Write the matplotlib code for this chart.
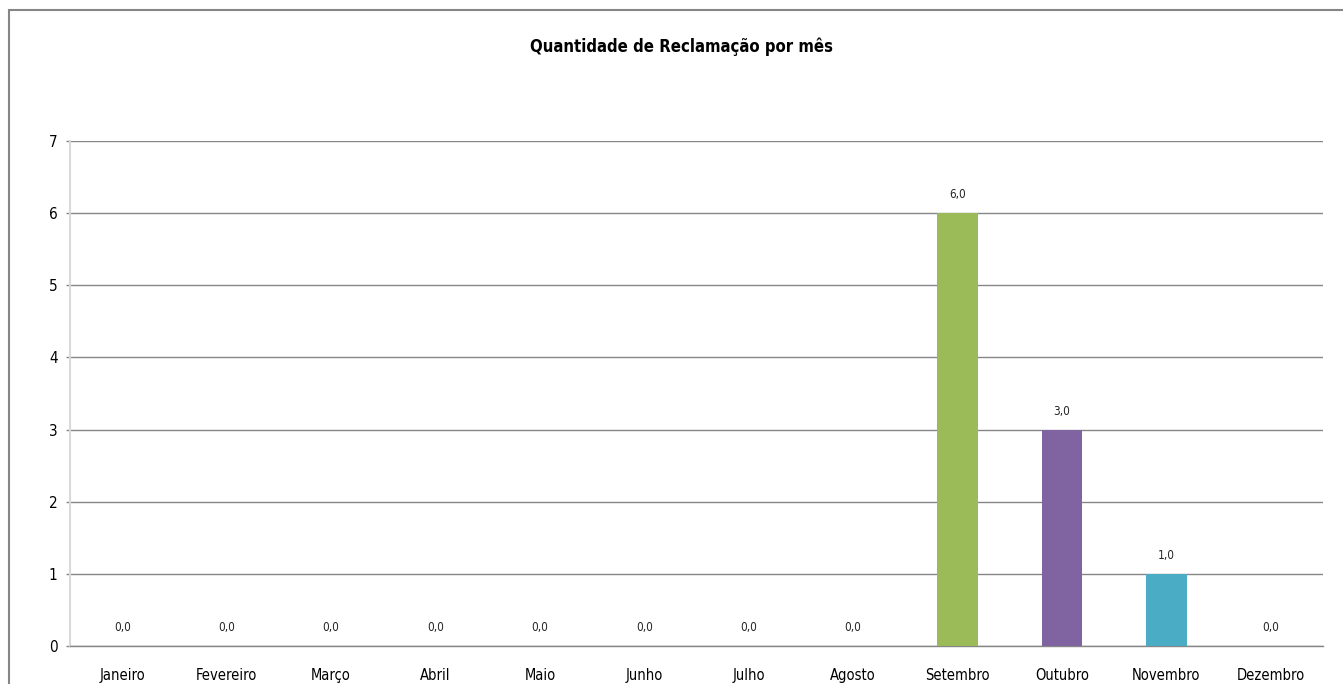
import matplotlib.pyplot as plt
from matplotlib.patches import Rectangle
import numpy as np

# Monthly complaint counts
months = ["Janeiro", "Fevereiro", "Março", "Abril", "Maio", "Junho",
          "Julho", "Agosto", "Setembro", "Outubro", "Novembro", "Dezembro"]
complaints = [0, 0, 0, 0, 0, 0, 0, 0, 6, 3, 1, 0]
bar_colors = ["#4F81BD", "#C0504D", "#9BBB59", "#8064A2", "#4BACC6", "#F79646",
              "#4F81BD", "#C0504D", "#9BBB59", "#8064A2", "#4BACC6", "#F79646"]
y_ticks = [0, 1, 2, 3, 4, 5, 6, 7]

plt.rcParams["font.family"] = ["DejaVu Sans"]
plt.rcParams["font.stretch"] = "condensed"

W, H = 1343, 684
fig = plt.figure(figsize=(W / 100, H / 100), dpi=100)

# chart frame (open on the right and bottom edges)
fig.patches.append(Rectangle((9 / W, -0.05), 1.2, 1 - 10 / H + 0.05,
                             transform=fig.transFigure, fill=False,
                             edgecolor="#868686", linewidth=1.5))

left, right, top, bottom = 70, 1323, 141, 646
ax = fig.add_axes([left / W, 1 - bottom / H, (right - left) / W, (bottom - top) / H])

x = np.arange(len(months))
bars = ax.bar(x, complaints, width=0.39, color=bar_colors, zorder=3)

for xi, v in zip(x, complaints):
    ax.annotate(f"{v:.1f}".replace(".", ","), (xi, v), xytext=(0, 8.5),
                textcoords="offset points", ha="center", va="bottom",
                fontsize=8.5, color="#262626")

ax.set_xlim(-0.5, len(months) - 0.5)
ax.set_ylim(0, 7)
ax.set_yticks(y_ticks)
ax.set_yticklabels([str(t) for t in y_ticks], fontsize=11)
ax.set_xticks(x)
ax.set_xticklabels(months, fontsize=10.5)
ax.tick_params(axis="x", length=0, pad=16)
ax.tick_params(axis="y", length=3, width=1, color="#868686", pad=6)
ax.yaxis.grid(True, color="#868686", linewidth=1, zorder=0)

for side in ["top", "right"]:
    ax.spines[side].set_visible(False)
ax.spines["bottom"].set_color("#868686")
ax.spines["bottom"].set_linewidth(1)
ax.spines["left"].set_color("#D9D9D9")
ax.spines["left"].set_linewidth(1.5)

fig.text(681 / W, 1 - 47 / H, "Quantidade de Reclamação por mês",
         ha="center", va="center", fontsize=12, fontweight="bold")

fig.savefig("out.png", dpi=100)
